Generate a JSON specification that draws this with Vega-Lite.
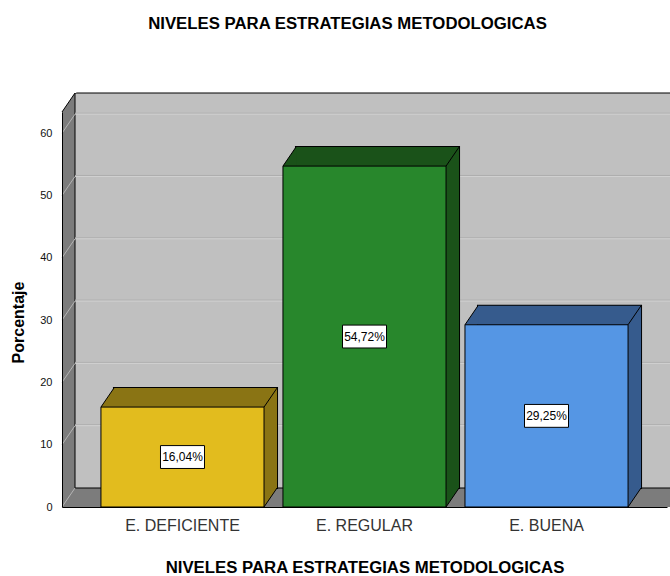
{
  "$schema": "https://vega.github.io/schema/vega-lite/v6.json",
  "width": 605,
  "height": 395,
  "autosize": "none",
  "padding": {"left": 62, "top": 112, "right": 3, "bottom": 69},
  "background": "white",
  "config": {"view": {"stroke": null}, "font": "Liberation Sans"},
  "title": {
    "text": "NIVELES PARA ESTRATEGIAS METODOLOGICAS",
    "fontSize": 16.75,
    "fontWeight": "bold",
    "color": "#000000",
    "font": "Liberation Sans",
    "frame": "group",
    "anchor": "middle",
    "offset": 58,
    "dx": -17
  },
  "resolve": {"scale": {"x": "independent"}},
  "layer": [
    {
      "layer": [
        {
          "data": {"values": [{}]},
          "mark": {"type": "rect", "fill": "#7c7c7c", "x2Offset": 13, "y2Offset": -19},
          "encoding": {
            "x": {"datum": 0, "type": "quantitative", "scale": {"domain": [0, 1], "nice": false, "zero": false}, "axis": null},
            "x2": {"datum": 1},
            "y": {"datum": 0, "type": "quantitative", "scale": {"domain": [0, 63.4], "nice": false}},
            "y2": {"datum": 63.4}
          }
        },
        {
          "data": {"values": [{}]},
          "mark": {"type": "rect", "fill": "#c0c0c0", "stroke": "#000000", "strokeWidth": 1, "xOffset": 13, "x2Offset": 13, "yOffset": -19, "y2Offset": -19},
          "encoding": {
            "x": {"datum": 0, "type": "quantitative", "axis": null},
            "x2": {"datum": 1},
            "y": {"datum": 0, "type": "quantitative"},
            "y2": {"datum": 63.4}
          }
        },
        {
          "data": {"values": [{"v": 10}, {"v": 20}, {"v": 30}, {"v": 40}, {"v": 50}, {"v": 60}]},
          "mark": {"type": "rule", "stroke": "#aeaeae", "strokeWidth": 1, "xOffset": 13, "x2Offset": 13, "yOffset": -20},
          "encoding": {
            "x": {"datum": 0, "type": "quantitative", "axis": null},
            "x2": {"datum": 1},
            "y": {"field": "v", "type": "quantitative"}
          }
        },
        {
          "data": {"values": [{"v": 10}, {"v": 20}, {"v": 30}, {"v": 40}, {"v": 50}, {"v": 60}]},
          "mark": {"type": "rule", "stroke": "#d0d0d0", "strokeWidth": 1, "xOffset": 13, "x2Offset": 13, "yOffset": -19},
          "encoding": {
            "x": {"datum": 0, "type": "quantitative", "axis": null},
            "x2": {"datum": 1},
            "y": {"field": "v", "type": "quantitative"}
          }
        },
        {
          "data": {"values": [{"v": 0}, {"v": 10}, {"v": 20}, {"v": 30}, {"v": 40}, {"v": 50}, {"v": 60}]},
          "mark": {"type": "point", "shape": "M -1 1 L 0.368 -1", "filled": false, "stroke": "#b4b4b4", "strokeWidth": 1, "opacity": 1, "size": 361, "xOffset": 9.5, "yOffset": -9.5},
          "encoding": {
            "x": {"datum": 0, "type": "quantitative", "axis": null},
            "y": {"field": "v", "type": "quantitative"}
          }
        },
        {
          "data": {"values": [{}]},
          "mark": {"type": "point", "shape": "M -1.2 -1.2 L 0.5 -1.2 L 0.5 -1 L 0.368 -1 L -1 1 L -1.2 1 Z", "filled": true, "fill": "#ffffff", "strokeWidth": 0, "opacity": 1, "size": 361, "xOffset": 9.5, "yOffset": -9.5},
          "encoding": {
            "x": {"datum": 0, "type": "quantitative", "axis": null},
            "y": {"datum": 63.4, "type": "quantitative"}
          }
        },
        {
          "data": {"values": [{}]},
          "mark": {"type": "point", "shape": "M -1 1 L 0.368 -1", "filled": false, "stroke": "#000000", "strokeWidth": 1, "opacity": 1, "size": 361, "xOffset": 9.5, "yOffset": -9.5},
          "encoding": {
            "x": {"datum": 0, "type": "quantitative", "axis": null},
            "y": {"datum": 63.4, "type": "quantitative"}
          }
        }
      ]
    },
    {
      "data": {
        "values": [
          {"cat": "E. DEFICIENTE", "pct": 16.04, "label": "16,04%"},
          {"cat": "E. REGULAR", "pct": 54.72, "label": "54,72%"},
          {"cat": "E. BUENA", "pct": 29.25, "label": "29,25%"}
        ]
      },
      "transform": [{"calculate": "datum.pct / 2", "as": "mid"}],
      "layer": [
        {
          "mark": {"type": "bar", "filled": false, "stroke": "#000000", "strokeWidth": 2, "xOffset": 13, "x2Offset": 13, "yOffset": -19, "y2Offset": -19},
          "encoding": {
            "x": {"field": "cat", "type": "nominal", "sort": null, "scale": {"paddingInner": 0.104, "paddingOuter": 0.214}},
            "y": {"field": "pct", "type": "quantitative"}
          }
        },
        {
          "mark": {"type": "bar", "strokeWidth": 0, "opacity": 1, "xOffset": 13, "x2Offset": 13, "yOffset": -19, "y2Offset": -19},
          "encoding": {
            "x": {"field": "cat", "type": "nominal", "sort": null},
            "y": {"field": "pct", "type": "quantitative"},
            "color": {"field": "cat", "type": "nominal", "sort": null, "scale": {"domain": ["E. DEFICIENTE", "E. REGULAR", "E. BUENA"], "range": ["#8a7414", "#1a5219", "#365b8d"]}, "legend": null}
          }
        },
        {
          "mark": {"type": "point", "shape": "M -1 1 L 0.368 -1 L 0.45 -1 L 0.45 1 Z", "filled": true, "strokeWidth": 0, "opacity": 1, "size": 361, "xOffset": 9.5, "yOffset": -9.5},
          "encoding": {
            "x": {"field": "cat", "type": "nominal", "sort": null, "bandPosition": 0},
            "y": {"field": "pct", "type": "quantitative"},
            "color": {"field": "cat", "type": "nominal", "sort": null, "legend": null}
          }
        },
        {
          "mark": {"type": "point", "shape": "M -1 1 L -1 -1.1 L 0.368 -1.1 L 0.368 -1 Z", "filled": true, "strokeWidth": 0, "opacity": 1, "size": 361, "xOffset": 9.5, "yOffset": -9.5},
          "encoding": {
            "x": {"field": "cat", "type": "nominal", "sort": null, "bandPosition": 1},
            "y": {"datum": 0, "type": "quantitative"},
            "color": {"field": "cat", "type": "nominal", "sort": null, "legend": null}
          }
        },
        {
          "mark": {"type": "bar", "stroke": "#000000", "strokeWidth": 1, "opacity": 1},
          "encoding": {
            "x": {
              "field": "cat", "type": "nominal", "sort": null,
              "axis": {
                "title": "NIVELES PARA ESTRATEGIAS METODOLOGICAS",
                "bandPosition": 0.5, "labelAlign": "center",
                "ticks": false, "tickSize": 0, "labelPadding": 18, "labelFontSize": 16, "labelColor": "#333333",
                "labelAngle": 0, "labelFont": "Liberation Sans", "domainColor": "#000000", "domainWidth": 1,
                "titleFontSize": 16.75, "titleFontWeight": "bold", "titleColor": "#000000", "titleFont": "Liberation Sans",
                "titlePadding": 26, "zindex": 1, "grid": false
              }
            },
            "y": {
              "field": "pct", "type": "quantitative",
              "axis": {
                "title": "Porcentaje", "values": [0, 10, 20, 30, 40, 50, 60],
                "ticks": false, "tickSize": 0, "labelPadding": 10, "labelFontSize": 11, "labelColor": "#111111",
                "labelFont": "Liberation Sans", "labelFlush": false,
                "domainColor": "#000000", "grid": false,
                "titleFontSize": 16, "titleFontWeight": "bold", "titleColor": "#000000", "titleFont": "Liberation Sans",
                "titleX": -39, "titleY": 210, "titleAngle": 270, "titleAlign": "center", "titleBaseline": "alphabetic",
                "zindex": 1
              }
            },
            "fill": {"field": "cat", "type": "nominal", "sort": null, "scale": {"domain": ["E. DEFICIENTE", "E. REGULAR", "E. BUENA"], "range": ["#e2bc1e", "#28872c", "#5596e4"]}, "legend": null}
          }
        },
        {
          "mark": {"type": "point", "shape": "M -1 1 L 0.368 -1", "filled": false, "stroke": "#000000", "strokeWidth": 1, "opacity": 1, "size": 361, "xOffset": 9.5, "yOffset": -9.5},
          "encoding": {
            "x": {"field": "cat", "type": "nominal", "sort": null, "bandPosition": 0},
            "y": {"field": "pct", "type": "quantitative"}
          }
        },
        {
          "mark": {"type": "point", "shape": "M -1 1 L 0.368 -1", "filled": false, "stroke": "#000000", "strokeWidth": 1, "opacity": 1, "size": 361, "xOffset": 9.5, "yOffset": -9.5},
          "encoding": {
            "x": {"field": "cat", "type": "nominal", "sort": null, "bandPosition": 1},
            "y": {"field": "pct", "type": "quantitative"}
          }
        },
        {
          "mark": {"type": "point", "shape": "M -1 1 L 0.368 -1", "filled": false, "stroke": "#000000", "strokeWidth": 1, "opacity": 1, "size": 361, "xOffset": 9.5, "yOffset": -9.5},
          "encoding": {
            "x": {"field": "cat", "type": "nominal", "sort": null, "bandPosition": 1},
            "y": {"datum": 0, "type": "quantitative"}
          }
        },
        {
          "mark": {"type": "point", "shape": "M -1 -0.52 L 1 -0.52 L 1 0.52 L -1 0.52 Z", "filled": true, "fill": "#ffffff", "stroke": "#000000", "strokeWidth": 1, "opacity": 1, "size": 1936},
          "encoding": {
            "x": {"field": "cat", "type": "nominal", "sort": null},
            "y": {"field": "mid", "type": "quantitative"}
          }
        },
        {
          "mark": {"type": "text", "fontSize": 12, "font": "Liberation Sans", "color": "#000000", "align": "center", "baseline": "middle"},
          "encoding": {
            "x": {"field": "cat", "type": "nominal", "sort": null},
            "y": {"field": "mid", "type": "quantitative"},
            "text": {"field": "label"}
          }
        }
      ]
    }
  ]
}
